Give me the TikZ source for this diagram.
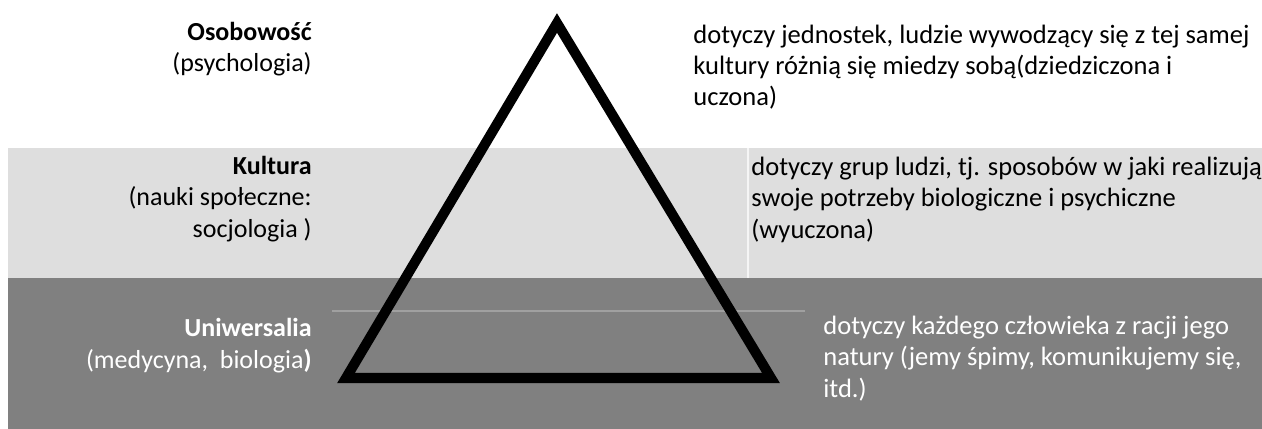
\documentclass[tikz,border=0pt]{standalone}
\usepackage{fontspec}
\setmainfont{Carlito}
\definecolor{bandlight}{HTML}{DEDEDE}
\definecolor{banddark}{HTML}{808080}
\definecolor{bandrule}{HTML}{A0A0A0}
\tikzset{
  txt/.style={inner sep=0pt},
  science/.style={txt, font=\fontsize{14.8}{17.7}\selectfont, align=right, anchor=base east},
  scope desc/.style={txt, font=\fontsize{15.1}{17.7}\selectfont, align=left, anchor=base west},
  pyramid/.style={line width=5.7pt, line join=miter, draw=black}
}
\begin{document}
\begin{tikzpicture}[x=0.02cm,y=-0.02cm]
  \useasboundingbox (0,0) rectangle (1262,429);
  % bands
  \fill[bandlight] (8,148) rectangle (1262,278);
  \fill[banddark] (8,278) rectangle (1262,429);
  \draw[white!70!bandlight, line width=0.6pt] (748,148) -- (748,278);
  \draw[bandrule, line width=0.6pt] (332,311) -- (805,311);
  % pyramid
  \coordinate (apex) at (557,23);
  \coordinate (base left) at (346,378);
  \coordinate (base right) at (771,378);
  \draw[pyramid] (apex) -- (base left) -- (base right) -- cycle;
  % left labels (anchored at the last line)
  \node[science] (osobowosc) at (312,72) {\textbf{Osobowość}\\(psychologia)};
  \node[science] (kultura) at (312,237) {\textbf{Kultura}\\(nauki społeczne:\\socjologia )};
  \node[science, text=white] (uniwersalia) at (312,368) {\textbf{Uniwersalia}\\(medycyna,\ \ biologia\textbf{)}};
  % right descriptions
  \node[scope desc] (jednostki) at (693,106) {dotyczy jednostek, ludzie wywodzący się z tej samej\\kultury różnią się miedzy sobą(dziedziczona i\\uczona)};
  \node[scope desc] (grupy) at (751,238) {dotyczy grup ludzi, tj. sposobów w jaki realizują\\swoje potrzeby biologiczne i psychiczne\\(wyuczona)};
  \node[scope desc, text=white] (natura) at (823,397) {dotyczy każdego człowieka z racji jego\\natury (jemy śpimy, komunikujemy się,\\itd.)};
\end{tikzpicture}
\end{document}
